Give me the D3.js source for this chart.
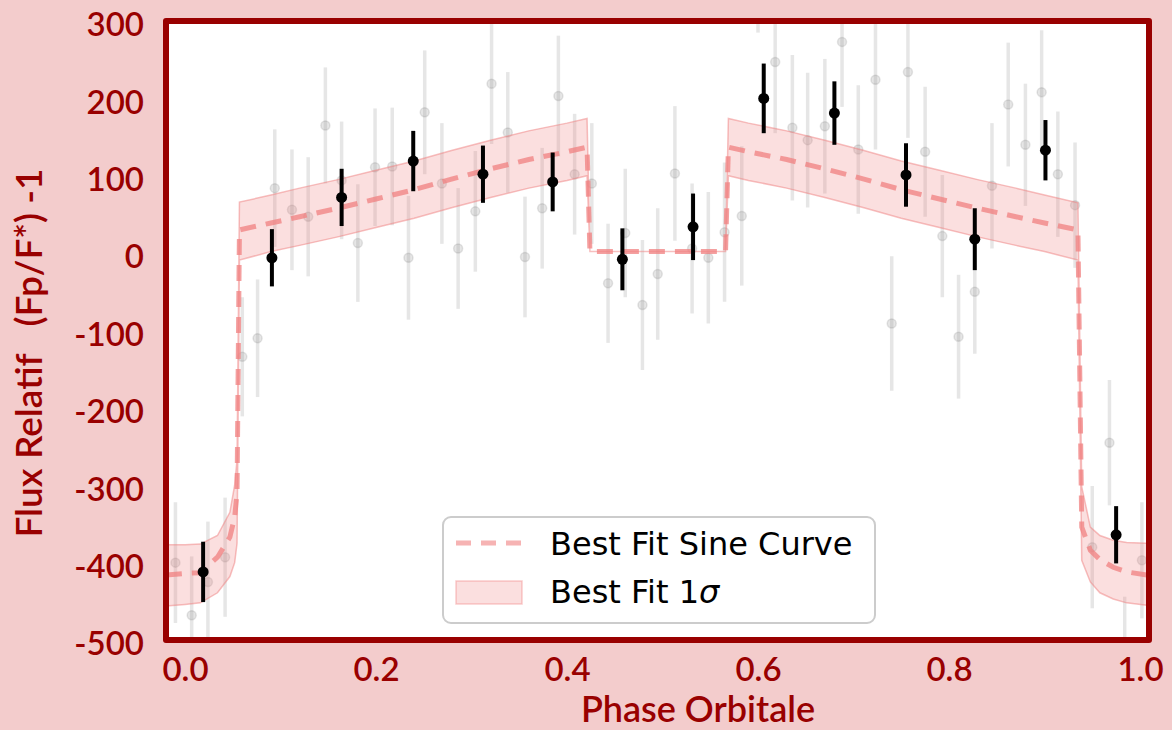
<!DOCTYPE html>
<html>
<head>
<meta charset="utf-8">
<script src="https://cdnjs.cloudflare.com/ajax/libs/d3/7.8.5/d3.min.js"></script>
<style>
  body { margin: 0; background: rgb(243, 204, 204); }
  svg { display: block; }
</style>
</head>
<body>
<div class="canvas"></div>
<script>
// raw (grey) points
const grayPhase = [-0.010, 0.007, 0.024, 0.042, 0.060, 0.076, 0.094, 0.112, 0.129, 0.147,
  0.164, 0.181, 0.199, 0.217, 0.234, 0.251, 0.269, 0.286, 0.304, 0.321,
  0.338, 0.356, 0.374, 0.391, 0.408, 0.426, 0.443, 0.461, 0.479, 0.495,
  0.513, 0.531, 0.548, 0.565, 0.583, 0.600, 0.618, 0.636, 0.652, 0.670,
  0.688, 0.705, 0.723, 0.740, 0.757, 0.775, 0.793, 0.810, 0.827, 0.845,
  0.862, 0.880, 0.897, 0.914, 0.932, 0.950, 0.968, 0.984, 1.002]
const grayFlux = [-400, -468, -425, -393, -134, -110, 84, 56, 47, 165,
  94, 13, 111, 112, -6, 182, 90, 6, 54, 219,
  156, -5, 58, 203, 102, 90, -39, 26, -67, -27,
  103, 6, -6, 27, 48, 375, 247, 162, 146, 164,
  273, 134, 224, -91, 234, 131, 22, -108, -50, 87,
  192, 140, 208, 102, 62, -380, -245, -524, -397]
const grayErr = [78, 76, 78, 77, 77, 76, 76, 78, 77, 75,
  76, 76, 76, 76, 80, 80, 78, 78, 78, 78,
  78, 78, 78, 78, 78, 78, 77, 83, 84, 85,
  87, 84, 85, 90, 90, 90, 92, 94, 87, 87,
  84, 83, 90, 87, 85, 84, 79, 80, 80, 81,
  80, 79, 80, 81, 81, 79, 81, 80, 75]

// binned (black) points
const binPhase = [0.019, 0.091, 0.164, 0.239, 0.312, 0.385, 0.458, 0.532, 0.606, 0.680, 0.755, 0.827, 0.901, 0.975]
const binFlux = [-412, -6, 72, 119, 102, 92, -8, 34, 200, 181, 101, 18, 133, -364]
const binErr = [39, 37, 37, 39, 37, 38, 40, 43, 45, 41, 41, 40, 39, 37]

// best fit curve and 1 sigma band
const fitPhase = [-0.02, 0.0, 0.016, 0.034, 0.047, 0.052, 0.0545, 0.057, 0.09, 0.12,
  0.16, 0.20, 0.24, 0.28, 0.32, 0.36, 0.40, 0.421, 0.424, 0.566,
  0.569, 0.59, 0.63, 0.67, 0.71, 0.75, 0.79, 0.83, 0.87, 0.90,
  0.935, 0.939, 0.948, 0.958, 0.972, 0.986, 1.007, 1.02]
const fitMid = [-416, -414, -413, -393, -367, -341, -310, 30, 39, 47,
  58, 70, 82, 96, 109, 121, 131, 137, 2, 2,
  137, 131, 121, 109, 96, 82, 70, 58, 47, 39,
  30, -354, -384, -396, -406, -412, -416, -416]
const fitHi = [-377, -377, -376, -365, -335, -300, -267, 66, 75, 84,
  95, 107, 119, 133, 146, 158, 168, 174, 2, 2,
  174, 168, 158, 146, 133, 119, 107, 95, 84, 75,
  65, -302, -354, -365, -371, -374, -375, -376]
const fitLo = [-456, -454, -452, -439, -418, -400, -375, -9, 2, 10,
  21, 33, 45, 59, 72, 84, 94, 100, 2, 2,
  100, 94, 84, 72, 59, 45, 33, 21, 10, 2,
  -9, -397, -425, -439, -447, -452, -455, -456]

const xTicks = [0, 0.2, 0.4, 0.6, 0.8, 1.0]
const yTicks = [300, 200, 100, 0, -100, -200, -300, -400, -500]

const red = '#990000'
const coral = '#f08080'
const frame = {left: 166, top: 21, right: 1149, bottom: 640}

const svg = d3.select('.canvas')
  .append('svg')
  .attr('width', 1172)
  .attr('height', 730)

svg.append('rect')
  .attr('width', 1172).attr('height', 730)
  .attr('fill', 'rgb(243,204,204)')

const x = d3.scaleLinear().domain([0, 1]).range([185, 1140])
const y = d3.scaleLinear().domain([-500, 300]).range([frame.bottom, frame.top])

svg.append('clipPath').attr('id', 'clip')
  .append('rect')
  .attr('x', frame.left).attr('y', frame.top)
  .attr('width', frame.right - frame.left)
  .attr('height', frame.bottom - frame.top)

svg.append('rect')
  .attr('x', frame.left).attr('y', frame.top)
  .attr('width', frame.right - frame.left)
  .attr('height', frame.bottom - frame.top)
  .attr('fill', 'white')

const graph = svg.append('g').attr('clip-path', 'url(#clip)')

// grey points
const gray = grayPhase.map((p, i) => ({p, v: grayFlux[i], e: grayErr[i]}))
graph.append('g').selectAll('line')
  .data(gray).enter().append('line')
  .attr('x1', d => x(d.p)).attr('x2', d => x(d.p))
  .attr('y1', d => y(d.v - d.e)).attr('y2', d => y(d.v + d.e))
  .attr('stroke', '#808080').attr('stroke-opacity', 0.2)
  .attr('stroke-width', 3.5)
graph.append('g').selectAll('circle')
  .data(gray).enter().append('circle')
  .attr('cx', d => x(d.p)).attr('cy', d => y(d.v)).attr('r', 4.5)
  .attr('fill', '#808080').attr('fill-opacity', 0.2)
  .attr('stroke', '#808080').attr('stroke-opacity', 0.2).attr('stroke-width', 1.5)

// band + dashed fit
const fit = fitPhase.map((p, i) => ({p, m: fitMid[i], lo: fitLo[i], hi: fitHi[i]}))
const area = d3.area().x(d => x(d.p)).y0(d => y(d.lo)).y1(d => y(d.hi))
graph.append('path')
  .attr('d', area(fit))
  .attr('fill', coral).attr('fill-opacity', 0.25)
  .attr('stroke', coral).attr('stroke-opacity', 0.5).attr('stroke-width', 1.5)

const line = d3.line().x(d => x(d.p)).y(d => y(d.m))
graph.append('path')
  .attr('d', line(fit))
  .attr('fill', 'none')
  .attr('stroke', coral).attr('stroke-opacity', 0.75)
  .attr('stroke-width', 5)
  .attr('stroke-dasharray', '16,10')

// binned points
const bins = binPhase.map((p, i) => ({p, v: binFlux[i], e: binErr[i]}))
graph.append('g').selectAll('line')
  .data(bins).enter().append('line')
  .attr('x1', d => x(d.p)).attr('x2', d => x(d.p))
  .attr('y1', d => y(d.v - d.e)).attr('y2', d => y(d.v + d.e))
  .attr('stroke', 'black').attr('stroke-width', 4)
graph.append('g').selectAll('circle')
  .data(bins).enter().append('circle')
  .attr('cx', d => x(d.p)).attr('cy', d => y(d.v)).attr('r', 5.5)
  .attr('fill', 'black')

// frame
svg.append('rect')
  .attr('x', frame.left).attr('y', frame.top)
  .attr('width', frame.right - frame.left)
  .attr('height', frame.bottom - frame.top)
  .attr('fill', 'none')
  .attr('stroke', red).attr('stroke-width', 6)
  .attr('stroke-linejoin', 'round')

// axes
const xAxisGroup = svg.append('g')
  .attr('transform', `translate(0, ${frame.bottom})`)
  .call(d3.axisBottom(x).tickValues(xTicks).tickFormat(d3.format('.1f')).tickSize(0).tickPadding(18))
const yAxisGroup = svg.append('g')
  .attr('transform', `translate(${frame.left}, 0)`)
  .call(d3.axisLeft(y).tickValues(yTicks).tickFormat(d => String(d)).tickSize(0).tickPadding(22))

svg.selectAll('.domain').remove()
svg.selectAll('.tick text')
  .attr('fill', red)
  .style('font-family', 'Lato, sans-serif')
  .style('font-weight', 600)
  .style('font-size', '33px')
yAxisGroup.selectAll('.tick text').attr('dy', '0.45em')

svg.append('text')
  .attr('x', 698).attr('y', 722)
  .attr('text-anchor', 'middle')
  .attr('fill', red)
  .style('font-family', 'Lato, sans-serif')
  .style('font-weight', 600)
  .style('font-size', '36px')
  .text('Phase Orbitale')

svg.append('text')
  .attr('transform', 'translate(42, 353) rotate(-90)')
  .attr('text-anchor', 'middle')
  .attr('fill', red)
  .style('font-family', 'Lato, sans-serif')
  .style('font-weight', 600)
  .style('font-size', '37px')
  .style('white-space', 'pre')
  .text('Flux Relatif   (Fp/F*) -1')

// legend
const legend = svg.append('g')
legend.append('rect')
  .attr('x', 443).attr('y', 517).attr('width', 432).attr('height', 106)
  .attr('rx', 8)
  .attr('fill', 'white').attr('fill-opacity', 0.85)
  .attr('stroke', '#cccccc').attr('stroke-width', 2)
legend.append('line')
  .attr('x1', 456).attr('x2', 522).attr('y1', 543).attr('y2', 543)
  .attr('stroke', coral).attr('stroke-opacity', 0.6)
  .attr('stroke-width', 5).attr('stroke-dasharray', '15,10')
legend.append('rect')
  .attr('x', 456).attr('y', 581).attr('width', 66).attr('height', 23)
  .attr('fill', coral).attr('fill-opacity', 0.25)
  .attr('stroke', coral).attr('stroke-opacity', 0.4).attr('stroke-width', 1.5)
legend.append('text')
  .attr('x', 550).attr('y', 555)
  .style('font-family', 'DejaVu Sans, sans-serif')
  .style('font-size', '32px')
  .text('Best Fit Sine Curve')
const t2 = legend.append('text')
  .attr('x', 550).attr('y', 603)
  .style('font-family', 'DejaVu Sans, sans-serif')
  .style('font-size', '32px')
t2.append('tspan').text('Best Fit 1')
t2.append('tspan').style('font-style', 'italic').text('σ')
</script>
</body>
</html>
